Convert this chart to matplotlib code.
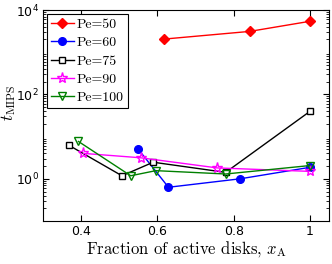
import numpy as np
import matplotlib
matplotlib.use("Agg")
import matplotlib.pyplot as plt
from matplotlib.ticker import LogLocator, NullFormatter

plt.rcParams['mathtext.fontset'] = 'cm'
plt.rcParams['axes.formatter.use_mathtext'] = True

# data
x_50 = [0.616, 0.842, 1.0]
t_50 = [2040, 3110, 5400]

x_60 = [0.550, 0.629, 0.817, 1.0]
t_60 = [5.0, 0.63, 1.0, 1.87]

x_75 = [0.367, 0.507, 0.589, 0.779, 1.0]
t_75 = [6.3, 1.18, 2.47, 1.42, 39.6]

x_90 = [0.406, 0.556, 0.757, 1.0]
t_90 = [4.0, 3.15, 1.81, 1.5]

x_100 = [0.393, 0.530, 0.596, 0.779, 1.0]
t_100 = [7.66, 1.18, 1.56, 1.30, 2.06]

fig = plt.figure(figsize=(3.32, 2.64), dpi=100)
ax = fig.add_axes([43/332, 1 - 221/264, 286/332, 211/264])

ax.plot(x_50, t_50, color='red', marker='D', ms=5, mfc='red', mec='red', lw=1, label='Pe=50')
ax.plot(x_60, t_60, color='blue', marker='o', ms=5.5, mfc='blue', mec='blue', lw=1, label='Pe=60')
ax.plot(x_75, t_75, color='black', marker='s', ms=4, mfc='white', mec='black', mew=1, lw=1, label='Pe=75')
ax.plot(x_90, t_90, color='magenta', marker='*', ms=8, mfc='none', mec='magenta', mew=1, lw=1, label='Pe=90')
ax.plot(x_100, t_100, color='green', marker='v', ms=6, mfc='none', mec='green', mew=1, lw=1, label='Pe=100')

ax.set_yscale('log')
ax.set_xlim(0.3, 1.05)
ax.set_ylim(1e-1, 1e4)
ax.set_xticks([0.4, 0.6, 0.8, 1.0])
ax.set_xticklabels(['0.4', '0.6', '0.8', '1'])
ax.set_yticks([1e0, 1e2, 1e4])
ax.yaxis.set_minor_locator(LogLocator(base=10, subs=np.arange(2, 10), numticks=20))
ax.yaxis.set_minor_formatter(NullFormatter())
ax.tick_params(which='both', direction='in', top=True, right=True)
ax.tick_params(which='major', length=4, labelsize=9, pad=3)
ax.tick_params(which='minor', length=2)

ax.set_xlabel(r'Fraction of active disks, $x_{\mathrm{A}}$', family='cmr10', fontsize=12, labelpad=1)
ax.set_ylabel(r'$t_{\mathrm{MIPS}}$', fontsize=12)
ax.yaxis.set_label_coords(-0.087, 0.56)

leg = ax.legend(loc='upper left', prop={'family': 'cmr10', 'size': 10}, handlelength=1.6,
                handletextpad=0.2, borderpad=0.3, labelspacing=0.4, borderaxespad=0.3,
                fancybox=False, edgecolor='black', framealpha=1)
leg.get_frame().set_linewidth(0.8)

fig.savefig('out.png', dpi=100)
